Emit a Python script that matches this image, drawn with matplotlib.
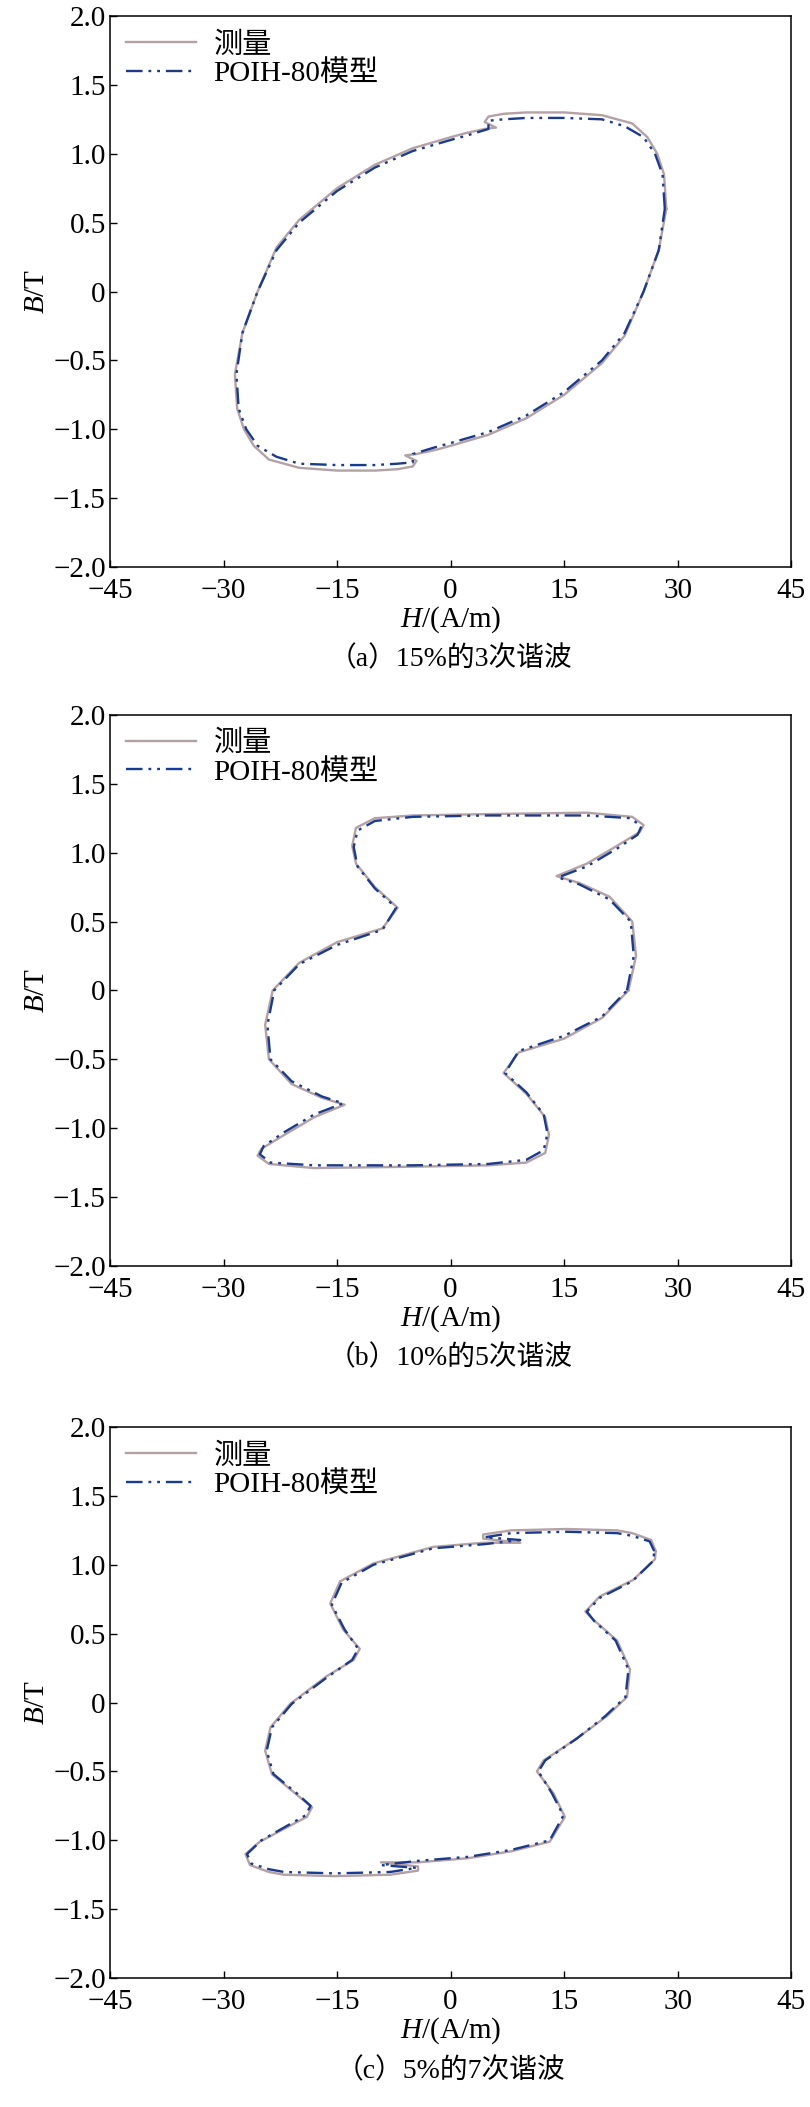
import matplotlib
matplotlib.use("Agg")
import matplotlib.pyplot as plt

plt.rcParams['font.family'] = ['Liberation Serif', 'Noto Sans CJK SC']
plt.rcParams['mathtext.fontset'] = 'custom'
plt.rcParams['mathtext.it'] = 'Liberation Serif:italic'
plt.rcParams['mathtext.rm'] = 'Liberation Serif'

# ---- Panel (a) ----
a_meas_H = [28.5, 28.2, 27.3, 26, 24, 20, 15, 10, 7, 5, 4.5, 6, 4.5, 2, 0, -5, -10, -15, -20, -23, -25.5, -27.5, -28.5,
            -28.5, -28.2, -27.3, -26, -24, -20, -15, -10, -7, -5, -4.5, -6, -4.5, -2, 0, 5, 10, 15, 20, 23, 25.5, 27.5, 28.5]
a_meas_B = [0.6, 0.85, 1.0, 1.12, 1.22, 1.28, 1.30, 1.30, 1.29, 1.27, 1.23, 1.19, 1.18, 1.15, 1.12, 1.04, 0.92, 0.75, 0.52, 0.32, 0.0, -0.3, -0.6,
            -0.6, -0.85, -1.0, -1.12, -1.22, -1.28, -1.30, -1.30, -1.29, -1.27, -1.23, -1.19, -1.18, -1.15, -1.12, -1.04, -0.92, -0.75, -0.52, -0.32, 0.0, 0.3, 0.6]
a_mod_H = [28.3, 28.0, 27.0, 25.5, 23, 20, 15, 10, 7, 5, 5, 2, 0, -5, -10, -15, -20, -23, -25.5, -27.5, -28.3,
           -28.3, -28.0, -27.0, -25.5, -23, -20, -15, -10, -7, -5, -5, -2, 0, 5, 10, 15, 20, 23, 25.5, 27.5, 28.3]
a_mod_B = [0.6, 0.85, 1.0, 1.12, 1.2, 1.25, 1.26, 1.26, 1.25, 1.24, 1.18, 1.13, 1.10, 1.02, 0.9, 0.73, 0.5, 0.3, 0.0, -0.3, -0.6,
           -0.6, -0.85, -1.0, -1.12, -1.2, -1.25, -1.26, -1.26, -1.25, -1.24, -1.18, -1.13, -1.10, -1.02, -0.9, -0.73, -0.5, -0.3, 0.0, 0.3, 0.6]

# ---- Panel (b) ----
b_meas_H = [23.5, 24.5, 24, 21, 17, 14, 18, 22, 25, 25.5, 24, 18, 5, -5, -10, -12.5, -13, -12.5, -10, -7, -9, -15, -20,
            -23.5, -24.5, -24, -21, -17, -14, -18, -22, -25, -25.5, -24, -18, -5, 5, 10, 12.5, 13, 12.5, 10, 7, 9, 15, 20, 23.5]
b_meas_B = [0.0, 0.25, 0.5, 0.68, 0.78, 0.83, 0.92, 1.05, 1.15, 1.2, 1.26, 1.29, 1.28, 1.27, 1.25, 1.18, 1.05, 0.92, 0.75, 0.6, 0.45, 0.35, 0.2,
            0.0, -0.25, -0.5, -0.68, -0.78, -0.83, -0.92, -1.05, -1.15, -1.2, -1.26, -1.29, -1.28, -1.27, -1.25, -1.18, -1.05, -0.92, -0.75, -0.6, -0.45, -0.35, -0.2, 0.0]
b_mod_H = [23.3, 24.2, 23.8, 21, 17, 14.2, 18, 22, 24.7, 25.2, 23.8, 18, 5, -5, -10, -12.3, -12.8, -12.3, -10, -7.2, -9, -15, -20,
           -23.3, -24.2, -23.8, -21, -17, -14.2, -18, -22, -24.7, -25.2, -23.8, -18, -5, 5, 10, 12.3, 12.8, 12.3, 10, 7.2, 9, 15, 20, 23.3]
b_mod_B = [0.0, 0.25, 0.5, 0.66, 0.77, 0.82, 0.9, 1.03, 1.13, 1.19, 1.25, 1.27, 1.27, 1.26, 1.23, 1.16, 1.04, 0.9, 0.74, 0.6, 0.44, 0.33, 0.19,
           0.0, -0.25, -0.5, -0.66, -0.77, -0.82, -0.9, -1.03, -1.13, -1.19, -1.25, -1.27, -1.27, -1.26, -1.23, -1.16, -1.04, -0.9, -0.74, -0.6, -0.44, -0.33, -0.19, 0.0]

# ---- Panel (c) ----
c_meas_H = [27.1, 26.5, 24, 22, 15.3, 8, 4.3, 4.3, 9.2, 4.3, -2.3, -10.2, -14.6, -15.9, -14.2, -12.0, -12.8, -16.4, -21.2, -23.8, -24.5, -23.6, -20.3, -18.3, -19.0, -25.2,
            -27.1, -26.5, -24, -22, -15.3, -8, -4.3, -4.3, -9.2, -4.3, 2.3, 8, 13.1, 15.1, 13.6, 11.4, 12.3, 16.7, 20.6, 23.3, 23.7, 22.0, 18.9, 17.8, 19.7, 24.1, 27.0, 27.1]
c_meas_B = [1.10, 1.18, 1.23, 1.25, 1.26, 1.25, 1.22, 1.19, 1.16, 1.16, 1.13, 1.01, 0.88, 0.72, 0.53, 0.39, 0.31, 0.19, -0.01, -0.18, -0.35, -0.52, -0.67, -0.76, -0.83, -1.01,
            -1.10, -1.18, -1.23, -1.25, -1.26, -1.25, -1.22, -1.19, -1.16, -1.16, -1.13, -1.08, -1.01, -0.83, -0.66, -0.50, -0.42, -0.26, -0.10, 0.04, 0.24, 0.45, 0.60, 0.66, 0.77, 0.89, 1.04, 1.10]
c_mod_H = [26.9, 26.3, 24, 22, 15.3, 8, 4.5, 9.2, 4.5, -2.3, -10.2, -14.4, -15.7, -14.0, -12.2, -13.0, -16.4, -21.0, -23.6, -24.3, -23.4, -20.3, -18.5, -19.2, -25.0,
           -26.9, -26.3, -24, -22, -15.3, -8, -4.5, -9.2, -4.5, 2.3, 8, 13.1, 14.9, 13.4, 11.6, 12.5, 16.7, 20.4, 23.1, 23.5, 21.8, 19.0, 18.0, 19.7, 24.0, 26.8, 26.9]
c_mod_B = [1.10, 1.17, 1.21, 1.23, 1.24, 1.23, 1.20, 1.18, 1.15, 1.12, 1.0, 0.87, 0.71, 0.53, 0.39, 0.31, 0.18, -0.01, -0.18, -0.35, -0.52, -0.66, -0.75, -0.82, -1.0,
           -1.10, -1.17, -1.21, -1.23, -1.24, -1.23, -1.20, -1.18, -1.15, -1.12, -1.07, -1.0, -0.82, -0.66, -0.50, -0.42, -0.26, -0.10, 0.04, 0.24, 0.45, 0.59, 0.66, 0.76, 0.88, 1.03, 1.10]

panels = [
    (a_meas_H, a_meas_B, a_mod_H, a_mod_B, '（a）15%的3次谐波'),
    (b_meas_H, b_meas_B, b_mod_H, b_mod_B, '（b）10%的5次谐波'),
    (c_meas_H, c_meas_B, c_mod_H, c_mod_B, '（c）5%的7次谐波'),
]

xticks = [-45, -30, -15, 0, 15, 30, 45]
xticklabels = ['−45', '−30', '−15', '0', '15', '30', '45']
yticks = [2.0, 1.5, 1.0, 0.5, 0, -0.5, -1.0, -1.5, -2.0]
yticklabels = ['2.0', '1.5', '1.0', '0.5', '0', '−0.5', '−1.0', '−1.5', '−2.0']

fig = plt.figure(figsize=(8.1, 21.07), dpi=100)
bottoms = [0.7309, 0.3992, 0.0612]
fs = 21
for (mh, mb, dh, db, cap), bot in zip(panels, bottoms):
    ax = fig.add_axes([0.1358, bot, 0.841, 0.2615])
    ax.plot(mh, mb, color='#b3a1a5', lw=1.7, label='测量', solid_joinstyle='round')
    ax.plot(dh, db, color='#1a3a8c', lw=1.7, linestyle=(0, (7, 2.5, 1.2, 2.5, 1.2, 2.5)), label='POIH-80模型')
    ax.set_xlim(-45, 45)
    ax.set_ylim(-2.0, 2.0)
    ax.set_xticks(xticks)
    ax.set_xticklabels(xticklabels, fontsize=fs)
    ax.set_yticks(yticks)
    ax.set_yticklabels(yticklabels, fontsize=fs)
    ax.tick_params(axis='x', direction='in', length=5, width=1, pad=8)
    ax.tick_params(axis='y', direction='in', length=5, width=1, pad=3)
    for s in ax.spines.values():
        s.set_linewidth(1.1)
    ax.set_xlabel('$\\mathit{H}$/(A/m)', fontsize=fs, labelpad=0)
    ax.set_ylabel('$\\mathit{B}$/T', fontsize=fs, labelpad=2)
    ax.legend(loc='upper left', frameon=False, fontsize=fs, handlelength=2.4,
              borderaxespad=0.15, labelspacing=0.05, handletextpad=0.6)
    ax.text(0.5, -0.168, cap, transform=ax.transAxes, ha='center', va='center', fontsize=20)

fig.savefig('out.png', dpi=100)
